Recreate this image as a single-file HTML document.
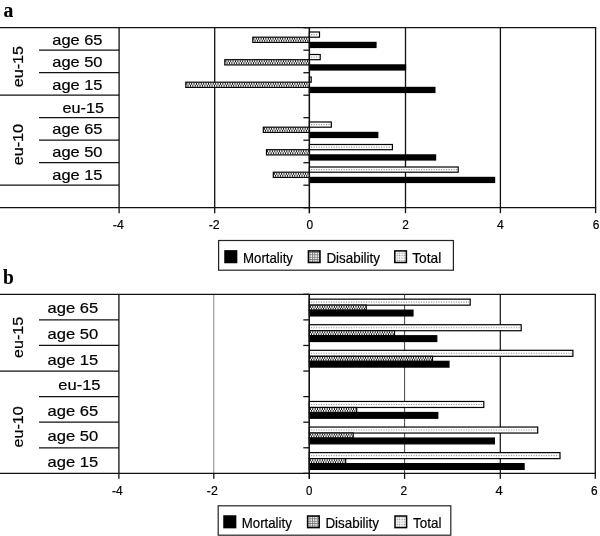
<!DOCTYPE html>
<html lang="en">
<head>
<meta charset="utf-8">
<title>Figure: mortality, disability and total by age group (eu-15 / eu-10)</title>
<style>
html,body{margin:0;padding:0;background:#fff;}
body{width:600px;height:536px;overflow:hidden;}
svg{display:block;font-family:"Liberation Sans",Arial,Helvetica,sans-serif;fill:#000;}
text{stroke:#000;stroke-width:0.2px;}
.pl{font-family:"Liberation Serif","Times New Roman",serif;font-weight:bold;font-size:20.5px;fill:#000;stroke-width:0.15px;}
</style>
</head>
<body>
<svg width="600" height="536" viewBox="0 0 600 536">
<defs>
<pattern id="pd" width="2.4" height="2.4" patternUnits="userSpaceOnUse">
<rect width="2.4" height="2.4" fill="#fff"/>
<rect x="0.2" y="0.2" width="1.15" height="1.7" fill="#000"/>
</pattern>
<pattern id="pt" width="2.4" height="2.4" patternUnits="userSpaceOnUse">
<rect width="2.4" height="2.4" fill="#fff"/>
<rect x="0.6" y="0.6" width="1.2" height="1.2" fill="#888"/>
</pattern>
<pattern id="ld" width="2.4" height="2.4" patternUnits="userSpaceOnUse">
<rect width="2.4" height="2.4" fill="#fff"/>
<rect x="0" y="0" width="0.9" height="2.4" fill="#777"/>
<rect x="0" y="0" width="2.4" height="0.9" fill="#777"/>
</pattern>
</defs>
<rect width="600" height="536" fill="#fff"/>
<text class="pl" x="3.6" y="17.4" textLength="9.8" lengthAdjust="spacingAndGlyphs">a</text>
<line x1="214.7" y1="27.7" x2="214.7" y2="207.7" stroke="#111" stroke-width="1.3"/>
<line x1="405.5" y1="27.7" x2="405.5" y2="207.7" stroke="#111" stroke-width="1.3"/>
<line x1="500.4" y1="27.7" x2="500.4" y2="207.7" stroke="#111" stroke-width="1.3"/>
<line x1="0" y1="27.7" x2="596.25" y2="27.7" stroke="#111" stroke-width="1.3"/>
<line x1="595.6" y1="27.7" x2="595.6" y2="213.2" stroke="#111" stroke-width="1.3"/>
<line x1="0" y1="207.7" x2="596.25" y2="207.7" stroke="#111" stroke-width="1.3"/>
<line x1="119.1" y1="27.7" x2="119.1" y2="213.2" stroke="#111" stroke-width="1.3"/>
<line x1="309.4" y1="27.7" x2="309.4" y2="213.2" stroke="#111" stroke-width="1.3"/>
<line x1="214.7" y1="207.7" x2="214.7" y2="213.2" stroke="#111" stroke-width="1.3"/>
<line x1="405.5" y1="207.7" x2="405.5" y2="213.2" stroke="#111" stroke-width="1.3"/>
<line x1="500.4" y1="207.7" x2="500.4" y2="213.2" stroke="#111" stroke-width="1.3"/>
<line x1="39" y1="50.2" x2="119.1" y2="50.2" stroke="#111" stroke-width="1.3"/>
<line x1="39" y1="72.7" x2="119.1" y2="72.7" stroke="#111" stroke-width="1.3"/>
<line x1="0" y1="95.2" x2="119.1" y2="95.2" stroke="#111" stroke-width="1.3"/>
<line x1="39" y1="117.7" x2="119.1" y2="117.7" stroke="#111" stroke-width="1.3"/>
<line x1="39" y1="140.2" x2="119.1" y2="140.2" stroke="#111" stroke-width="1.3"/>
<line x1="39" y1="162.7" x2="119.1" y2="162.7" stroke="#111" stroke-width="1.3"/>
<line x1="0" y1="185.2" x2="119.1" y2="185.2" stroke="#111" stroke-width="1.3"/>
<line x1="303.4" y1="27.7" x2="309.4" y2="27.7" stroke="#111" stroke-width="1.3"/>
<line x1="303.4" y1="50.2" x2="309.4" y2="50.2" stroke="#111" stroke-width="1.3"/>
<line x1="303.4" y1="72.7" x2="309.4" y2="72.7" stroke="#111" stroke-width="1.3"/>
<line x1="303.4" y1="95.2" x2="309.4" y2="95.2" stroke="#111" stroke-width="1.3"/>
<line x1="303.4" y1="117.7" x2="309.4" y2="117.7" stroke="#111" stroke-width="1.3"/>
<line x1="303.4" y1="140.2" x2="309.4" y2="140.2" stroke="#111" stroke-width="1.3"/>
<line x1="303.4" y1="162.7" x2="309.4" y2="162.7" stroke="#111" stroke-width="1.3"/>
<line x1="303.4" y1="185.2" x2="309.4" y2="185.2" stroke="#111" stroke-width="1.3"/>
<line x1="303.4" y1="207.7" x2="309.4" y2="207.7" stroke="#111" stroke-width="1.3"/>
<rect x="309.40" y="32.00" width="10.10" height="5.20" fill="#fff" stroke="#000" stroke-width="1.2"/>
<line x1="311.00" y1="34.60" x2="318.30" y2="34.60" stroke="#9a9a9a" stroke-width="1.1" stroke-dasharray="1.2 1.3"/>
<rect x="252.80" y="37.20" width="56.60" height="5.20" fill="#fff" stroke="#000" stroke-width="1.2"/>
<line x1="253.40" y1="38.80" x2="308.80" y2="38.80" stroke="#000" stroke-width="2.00" stroke-dasharray="0.95 1.45" stroke-dashoffset="0.00"/>
<line x1="253.40" y1="40.80" x2="308.80" y2="40.80" stroke="#000" stroke-width="2.00" stroke-dasharray="0.95 1.45" stroke-dashoffset="1.20"/>
<rect x="309.40" y="42.40" width="66.60" height="5.10" fill="#000" stroke="#000" stroke-width="1.2"/>
<rect x="309.40" y="54.50" width="10.80" height="5.20" fill="#fff" stroke="#000" stroke-width="1.2"/>
<line x1="311.00" y1="57.10" x2="319.00" y2="57.10" stroke="#9a9a9a" stroke-width="1.1" stroke-dasharray="1.2 1.3"/>
<rect x="224.80" y="59.70" width="84.60" height="5.20" fill="#fff" stroke="#000" stroke-width="1.2"/>
<line x1="225.40" y1="61.30" x2="308.80" y2="61.30" stroke="#000" stroke-width="2.00" stroke-dasharray="0.95 1.45" stroke-dashoffset="0.00"/>
<line x1="225.40" y1="63.30" x2="308.80" y2="63.30" stroke="#000" stroke-width="2.00" stroke-dasharray="0.95 1.45" stroke-dashoffset="1.20"/>
<rect x="309.40" y="64.90" width="96.20" height="5.10" fill="#000" stroke="#000" stroke-width="1.2"/>
<rect x="309.40" y="77.00" width="1.80" height="5.20" fill="#fff" stroke="#000" stroke-width="1.2"/>
<rect x="185.80" y="82.20" width="123.60" height="5.20" fill="#fff" stroke="#000" stroke-width="1.2"/>
<line x1="186.40" y1="83.80" x2="308.80" y2="83.80" stroke="#000" stroke-width="2.00" stroke-dasharray="0.95 1.45" stroke-dashoffset="0.00"/>
<line x1="186.40" y1="85.80" x2="308.80" y2="85.80" stroke="#000" stroke-width="2.00" stroke-dasharray="0.95 1.45" stroke-dashoffset="1.20"/>
<rect x="309.40" y="87.40" width="125.50" height="5.10" fill="#000" stroke="#000" stroke-width="1.2"/>
<rect x="309.40" y="122.00" width="21.90" height="5.20" fill="#fff" stroke="#000" stroke-width="1.2"/>
<line x1="311.00" y1="124.60" x2="330.10" y2="124.60" stroke="#9a9a9a" stroke-width="1.1" stroke-dasharray="1.2 1.3"/>
<rect x="263.30" y="127.20" width="46.10" height="5.20" fill="#fff" stroke="#000" stroke-width="1.2"/>
<line x1="263.90" y1="128.80" x2="308.80" y2="128.80" stroke="#000" stroke-width="2.00" stroke-dasharray="0.95 1.45" stroke-dashoffset="0.00"/>
<line x1="263.90" y1="130.80" x2="308.80" y2="130.80" stroke="#000" stroke-width="2.00" stroke-dasharray="0.95 1.45" stroke-dashoffset="1.20"/>
<rect x="309.40" y="132.40" width="68.40" height="5.10" fill="#000" stroke="#000" stroke-width="1.2"/>
<rect x="309.40" y="144.50" width="83.00" height="5.20" fill="#fff" stroke="#000" stroke-width="1.2"/>
<line x1="311.00" y1="147.10" x2="391.20" y2="147.10" stroke="#9a9a9a" stroke-width="1.1" stroke-dasharray="1.2 1.3"/>
<rect x="266.50" y="149.70" width="42.90" height="5.20" fill="#fff" stroke="#000" stroke-width="1.2"/>
<line x1="267.10" y1="151.30" x2="308.80" y2="151.30" stroke="#000" stroke-width="2.00" stroke-dasharray="0.95 1.45" stroke-dashoffset="0.00"/>
<line x1="267.10" y1="153.30" x2="308.80" y2="153.30" stroke="#000" stroke-width="2.00" stroke-dasharray="0.95 1.45" stroke-dashoffset="1.20"/>
<rect x="309.40" y="154.90" width="126.20" height="5.10" fill="#000" stroke="#000" stroke-width="1.2"/>
<rect x="309.40" y="167.00" width="148.80" height="5.20" fill="#fff" stroke="#000" stroke-width="1.2"/>
<line x1="311.00" y1="169.60" x2="457.00" y2="169.60" stroke="#9a9a9a" stroke-width="1.1" stroke-dasharray="1.2 1.3"/>
<rect x="273.30" y="172.20" width="36.10" height="5.20" fill="#fff" stroke="#000" stroke-width="1.2"/>
<line x1="273.90" y1="173.80" x2="308.80" y2="173.80" stroke="#000" stroke-width="2.00" stroke-dasharray="0.95 1.45" stroke-dashoffset="0.00"/>
<line x1="273.90" y1="175.80" x2="308.80" y2="175.80" stroke="#000" stroke-width="2.00" stroke-dasharray="0.95 1.45" stroke-dashoffset="1.20"/>
<rect x="309.40" y="177.40" width="185.20" height="5.10" fill="#000" stroke="#000" stroke-width="1.2"/>
<line x1="309.4" y1="27.7" x2="309.4" y2="213.2" stroke="#111" stroke-width="1.3"/>
<text x="52.3" y="44.9" font-size="14.6" text-anchor="start" textLength="50.2" lengthAdjust="spacingAndGlyphs">age 65</text>
<text x="52.3" y="67.4" font-size="14.6" text-anchor="start" textLength="50.2" lengthAdjust="spacingAndGlyphs">age 50</text>
<text x="52.3" y="90.0" font-size="14.6" text-anchor="start" textLength="50.2" lengthAdjust="spacingAndGlyphs">age 15</text>
<text x="62.6" y="112.5" font-size="14.6" text-anchor="start" textLength="41.4" lengthAdjust="spacingAndGlyphs">eu-15</text>
<text x="52.3" y="134.3" font-size="14.6" text-anchor="start" textLength="50.2" lengthAdjust="spacingAndGlyphs">age 65</text>
<text x="52.3" y="157.0" font-size="14.6" text-anchor="start" textLength="50.2" lengthAdjust="spacingAndGlyphs">age 50</text>
<text x="52.3" y="179.7" font-size="14.6" text-anchor="start" textLength="50.2" lengthAdjust="spacingAndGlyphs">age 15</text>
<text transform="translate(22.6,66.6) rotate(-90)" font-size="14.6" text-anchor="middle" textLength="41.5" lengthAdjust="spacingAndGlyphs">eu-15</text>
<text transform="translate(22.6,144.6) rotate(-90)" font-size="14.6" text-anchor="middle" textLength="41.5" lengthAdjust="spacingAndGlyphs">eu-10</text>
<text x="112.8" y="228.6" font-size="12" text-anchor="start" textLength="11" lengthAdjust="spacingAndGlyphs">-4</text>
<text x="208.7" y="228.6" font-size="12" text-anchor="start" textLength="11" lengthAdjust="spacingAndGlyphs">-2</text>
<text x="306.6" y="228.6" font-size="12" text-anchor="start" textLength="6.6" lengthAdjust="spacingAndGlyphs">0</text>
<text x="402.2" y="228.6" font-size="12" text-anchor="start" textLength="6.6" lengthAdjust="spacingAndGlyphs">2</text>
<text x="497.0" y="228.6" font-size="12" text-anchor="start" textLength="6.8" lengthAdjust="spacingAndGlyphs">4</text>
<text x="592.7" y="228.6" font-size="12" text-anchor="start" textLength="6.6" lengthAdjust="spacingAndGlyphs">6</text>
<rect x="218.6" y="240.5" width="234.8" height="29.7" fill="#fff" stroke="#222" stroke-width="1.2"/>
<rect x="225.0" y="250.9" width="11.6" height="11.6" fill="#000" stroke="#000" stroke-width="1.5"/>
<text x="243.0" y="262.5" font-size="14.3" text-anchor="start" textLength="50" lengthAdjust="spacingAndGlyphs">Mortality</text>
<rect x="308.4" y="250.9" width="11.6" height="11.6" fill="url(#ld)" stroke="#000" stroke-width="1.5"/>
<text x="326.4" y="262.5" font-size="14.3" text-anchor="start" textLength="53.6" lengthAdjust="spacingAndGlyphs">Disability</text>
<rect x="394.8" y="250.9" width="11.6" height="11.6" fill="url(#pt)" stroke="#000" stroke-width="1.5"/>
<text x="412.2" y="262.5" font-size="14.3" text-anchor="start" textLength="29" lengthAdjust="spacingAndGlyphs">Total</text>
<text class="pl" x="3.0" y="283.9" textLength="10.8" lengthAdjust="spacingAndGlyphs">b</text>
<line x1="213.8" y1="294.3" x2="213.8" y2="473.36" stroke="#777" stroke-width="0.9"/>
<line x1="404.6" y1="294.3" x2="404.6" y2="473.36" stroke="#444" stroke-width="1.0"/>
<line x1="500.3" y1="294.3" x2="500.3" y2="473.36" stroke="#111" stroke-width="1.2"/>
<line x1="0" y1="294.3" x2="595.9499999999999" y2="294.3" stroke="#111" stroke-width="1.3"/>
<line x1="595.3" y1="294.3" x2="595.3" y2="478.86" stroke="#111" stroke-width="1.3"/>
<line x1="0" y1="473.36" x2="595.9499999999999" y2="473.36" stroke="#111" stroke-width="1.3"/>
<line x1="118.9" y1="294.3" x2="118.9" y2="478.86" stroke="#111" stroke-width="1.3"/>
<line x1="309.3" y1="294.3" x2="309.3" y2="478.86" stroke="#111" stroke-width="1.3"/>
<line x1="213.8" y1="473.36" x2="213.8" y2="478.86" stroke="#111" stroke-width="1.3"/>
<line x1="404.6" y1="473.36" x2="404.6" y2="478.86" stroke="#111" stroke-width="1.3"/>
<line x1="500.3" y1="473.36" x2="500.3" y2="478.86" stroke="#111" stroke-width="1.3"/>
<line x1="39" y1="319.88" x2="118.9" y2="319.88" stroke="#111" stroke-width="1.3"/>
<line x1="39" y1="345.46000000000004" x2="118.9" y2="345.46000000000004" stroke="#111" stroke-width="1.3"/>
<line x1="0" y1="371.04" x2="118.9" y2="371.04" stroke="#111" stroke-width="1.3"/>
<line x1="39" y1="396.62" x2="118.9" y2="396.62" stroke="#111" stroke-width="1.3"/>
<line x1="39" y1="422.2" x2="118.9" y2="422.2" stroke="#111" stroke-width="1.3"/>
<line x1="39" y1="447.78" x2="118.9" y2="447.78" stroke="#111" stroke-width="1.3"/>
<line x1="303.3" y1="294.3" x2="309.3" y2="294.3" stroke="#111" stroke-width="1.3"/>
<line x1="303.3" y1="319.88" x2="309.3" y2="319.88" stroke="#111" stroke-width="1.3"/>
<line x1="303.3" y1="345.46000000000004" x2="309.3" y2="345.46000000000004" stroke="#111" stroke-width="1.3"/>
<line x1="303.3" y1="371.04" x2="309.3" y2="371.04" stroke="#111" stroke-width="1.3"/>
<line x1="303.3" y1="396.62" x2="309.3" y2="396.62" stroke="#111" stroke-width="1.3"/>
<line x1="303.3" y1="422.2" x2="309.3" y2="422.2" stroke="#111" stroke-width="1.3"/>
<line x1="303.3" y1="447.78" x2="309.3" y2="447.78" stroke="#111" stroke-width="1.3"/>
<line x1="303.3" y1="473.36" x2="309.3" y2="473.36" stroke="#111" stroke-width="1.3"/>
<rect x="309.30" y="299.15" width="160.90" height="6.00" fill="#fff" stroke="#000" stroke-width="1.2"/>
<line x1="310.90" y1="302.15" x2="469.00" y2="302.15" stroke="#9a9a9a" stroke-width="1.1" stroke-dasharray="1.2 1.3"/>
<rect x="309.30" y="305.15" width="56.90" height="5.00" fill="#fff" stroke="#000" stroke-width="1.2"/>
<line x1="309.90" y1="306.70" x2="365.60" y2="306.70" stroke="#000" stroke-width="1.90" stroke-dasharray="0.95 1.45" stroke-dashoffset="0.00"/>
<line x1="309.90" y1="308.60" x2="365.60" y2="308.60" stroke="#000" stroke-width="1.90" stroke-dasharray="0.95 1.45" stroke-dashoffset="1.20"/>
<rect x="309.30" y="310.15" width="103.70" height="5.80" fill="#000" stroke="#000" stroke-width="1.2"/>
<rect x="309.30" y="324.73" width="211.90" height="6.00" fill="#fff" stroke="#000" stroke-width="1.2"/>
<line x1="310.90" y1="327.73" x2="520.00" y2="327.73" stroke="#9a9a9a" stroke-width="1.1" stroke-dasharray="1.2 1.3"/>
<rect x="309.30" y="330.73" width="85.20" height="5.00" fill="#fff" stroke="#000" stroke-width="1.2"/>
<line x1="309.90" y1="332.28" x2="393.90" y2="332.28" stroke="#000" stroke-width="1.90" stroke-dasharray="0.95 1.45" stroke-dashoffset="0.00"/>
<line x1="309.90" y1="334.18" x2="393.90" y2="334.18" stroke="#000" stroke-width="1.90" stroke-dasharray="0.95 1.45" stroke-dashoffset="1.20"/>
<rect x="309.30" y="335.73" width="127.50" height="5.80" fill="#000" stroke="#000" stroke-width="1.2"/>
<rect x="309.30" y="350.31" width="263.60" height="6.00" fill="#fff" stroke="#000" stroke-width="1.2"/>
<line x1="310.90" y1="353.31" x2="571.70" y2="353.31" stroke="#9a9a9a" stroke-width="1.1" stroke-dasharray="1.2 1.3"/>
<rect x="309.30" y="356.31" width="123.20" height="5.00" fill="#fff" stroke="#000" stroke-width="1.2"/>
<line x1="309.90" y1="357.86" x2="431.90" y2="357.86" stroke="#000" stroke-width="1.90" stroke-dasharray="0.95 1.45" stroke-dashoffset="0.00"/>
<line x1="309.90" y1="359.76" x2="431.90" y2="359.76" stroke="#000" stroke-width="1.90" stroke-dasharray="0.95 1.45" stroke-dashoffset="1.20"/>
<rect x="309.30" y="361.31" width="139.70" height="5.80" fill="#000" stroke="#000" stroke-width="1.2"/>
<rect x="309.30" y="401.47" width="174.50" height="6.00" fill="#fff" stroke="#000" stroke-width="1.2"/>
<line x1="310.90" y1="404.47" x2="482.60" y2="404.47" stroke="#9a9a9a" stroke-width="1.1" stroke-dasharray="1.2 1.3"/>
<rect x="309.30" y="407.47" width="47.40" height="5.00" fill="#fff" stroke="#000" stroke-width="1.2"/>
<line x1="309.90" y1="409.02" x2="356.10" y2="409.02" stroke="#000" stroke-width="1.90" stroke-dasharray="0.95 1.45" stroke-dashoffset="0.00"/>
<line x1="309.90" y1="410.92" x2="356.10" y2="410.92" stroke="#000" stroke-width="1.90" stroke-dasharray="0.95 1.45" stroke-dashoffset="1.20"/>
<rect x="309.30" y="412.47" width="128.50" height="5.80" fill="#000" stroke="#000" stroke-width="1.2"/>
<rect x="309.30" y="427.05" width="228.40" height="6.00" fill="#fff" stroke="#000" stroke-width="1.2"/>
<line x1="310.90" y1="430.05" x2="536.50" y2="430.05" stroke="#9a9a9a" stroke-width="1.1" stroke-dasharray="1.2 1.3"/>
<rect x="309.30" y="433.05" width="43.90" height="5.00" fill="#fff" stroke="#000" stroke-width="1.2"/>
<line x1="309.90" y1="434.60" x2="352.60" y2="434.60" stroke="#000" stroke-width="1.90" stroke-dasharray="0.95 1.45" stroke-dashoffset="0.00"/>
<line x1="309.90" y1="436.50" x2="352.60" y2="436.50" stroke="#000" stroke-width="1.90" stroke-dasharray="0.95 1.45" stroke-dashoffset="1.20"/>
<rect x="309.30" y="438.05" width="185.10" height="5.80" fill="#000" stroke="#000" stroke-width="1.2"/>
<rect x="309.30" y="452.63" width="250.70" height="6.00" fill="#fff" stroke="#000" stroke-width="1.2"/>
<line x1="310.90" y1="455.63" x2="558.80" y2="455.63" stroke="#9a9a9a" stroke-width="1.1" stroke-dasharray="1.2 1.3"/>
<rect x="309.30" y="458.63" width="36.40" height="5.00" fill="#fff" stroke="#000" stroke-width="1.2"/>
<line x1="309.90" y1="460.18" x2="345.10" y2="460.18" stroke="#000" stroke-width="1.90" stroke-dasharray="0.95 1.45" stroke-dashoffset="0.00"/>
<line x1="309.90" y1="462.08" x2="345.10" y2="462.08" stroke="#000" stroke-width="1.90" stroke-dasharray="0.95 1.45" stroke-dashoffset="1.20"/>
<rect x="309.30" y="463.63" width="214.80" height="5.80" fill="#000" stroke="#000" stroke-width="1.2"/>
<line x1="309.3" y1="294.3" x2="309.3" y2="478.86" stroke="#111" stroke-width="1.3"/>
<text x="47.6" y="313.1" font-size="14.6" text-anchor="start" textLength="50.6" lengthAdjust="spacingAndGlyphs">age 65</text>
<text x="47.6" y="338.9" font-size="14.6" text-anchor="start" textLength="50.6" lengthAdjust="spacingAndGlyphs">age 50</text>
<text x="47.6" y="364.6" font-size="14.6" text-anchor="start" textLength="50.6" lengthAdjust="spacingAndGlyphs">age 15</text>
<text x="58.3" y="389.8" font-size="14.6" text-anchor="start" textLength="42.2" lengthAdjust="spacingAndGlyphs">eu-15</text>
<text x="47.6" y="415.7" font-size="14.6" text-anchor="start" textLength="50.6" lengthAdjust="spacingAndGlyphs">age 65</text>
<text x="47.6" y="441.4" font-size="14.6" text-anchor="start" textLength="50.6" lengthAdjust="spacingAndGlyphs">age 50</text>
<text x="47.6" y="467.1" font-size="14.6" text-anchor="start" textLength="50.6" lengthAdjust="spacingAndGlyphs">age 15</text>
<text transform="translate(23.4,337.4) rotate(-90)" font-size="14.6" text-anchor="middle" textLength="41.2" lengthAdjust="spacingAndGlyphs">eu-15</text>
<text transform="translate(23.4,426.9) rotate(-90)" font-size="14.6" text-anchor="middle" textLength="41.2" lengthAdjust="spacingAndGlyphs">eu-10</text>
<text x="112.0" y="495.0" font-size="12" text-anchor="start" textLength="10.6" lengthAdjust="spacingAndGlyphs">-4</text>
<text x="206.8" y="495.0" font-size="12" text-anchor="start" textLength="11" lengthAdjust="spacingAndGlyphs">-2</text>
<text x="306.0" y="495.0" font-size="12" text-anchor="start" textLength="6.4" lengthAdjust="spacingAndGlyphs">0</text>
<text x="400.6" y="495.0" font-size="12" text-anchor="start" textLength="6.6" lengthAdjust="spacingAndGlyphs">2</text>
<text x="495.6" y="495.0" font-size="12" text-anchor="start" textLength="7.2" lengthAdjust="spacingAndGlyphs">4</text>
<text x="591.0" y="495.0" font-size="12" text-anchor="start" textLength="6.6" lengthAdjust="spacingAndGlyphs">6</text>
<rect x="218.2" y="505.8" width="232.6" height="29.4" fill="#fff" stroke="#222" stroke-width="1.2"/>
<rect x="224.0" y="516.0" width="11.6" height="11.6" fill="#000" stroke="#000" stroke-width="1.5"/>
<text x="241.8" y="527.7" font-size="14.3" text-anchor="start" textLength="50" lengthAdjust="spacingAndGlyphs">Mortality</text>
<rect x="307.6" y="516.0" width="11.6" height="11.6" fill="url(#ld)" stroke="#000" stroke-width="1.5"/>
<text x="325.4" y="527.7" font-size="14.3" text-anchor="start" textLength="53.6" lengthAdjust="spacingAndGlyphs">Disability</text>
<rect x="395.0" y="516.0" width="11.6" height="11.6" fill="url(#pt)" stroke="#000" stroke-width="1.5"/>
<text x="413.0" y="527.7" font-size="14.3" text-anchor="start" textLength="28.4" lengthAdjust="spacingAndGlyphs">Total</text>
</svg>
</body>
</html>
